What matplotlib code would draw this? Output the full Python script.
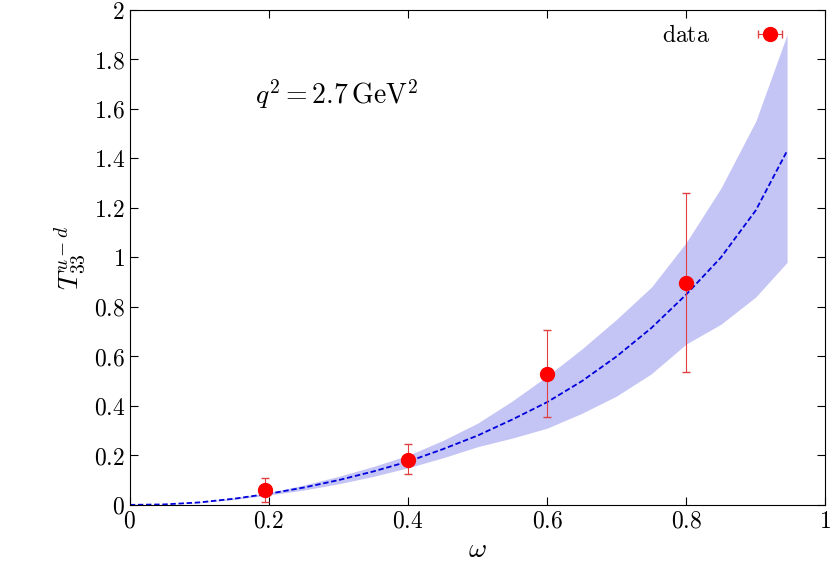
import matplotlib
matplotlib.use("Agg")
import matplotlib.pyplot as plt
import numpy as np

plt.rcParams["mathtext.fontset"] = "cm"
plt.rcParams["font.family"] = "serif"
plt.rcParams["font.serif"] = ["DejaVu Serif"]

omega_data = [0.195, 0.4, 0.6, 0.8]
T_data = [0.06, 0.18, 0.53, 0.895]
err_lo = [0.05, 0.055, 0.175, 0.36]
err_hi = [0.05, 0.065, 0.175, 0.365]

omega_curve = [0, 0.05, 0.1, 0.15, 0.2, 0.25, 0.3, 0.35, 0.4, 0.45, 0.5, 0.55, 0.6, 0.65, 0.7, 0.75, 0.8, 0.85, 0.9, 0.945]
central = [0, 0.002, 0.01, 0.025, 0.045, 0.07, 0.1, 0.135, 0.175, 0.225, 0.28, 0.345, 0.415, 0.5, 0.6, 0.715, 0.85, 1.0, 1.19, 1.43]
upper = [0, 0.002, 0.011, 0.028, 0.05, 0.08, 0.115, 0.155, 0.2, 0.26, 0.33, 0.42, 0.52, 0.63, 0.75, 0.88, 1.06, 1.28, 1.55, 1.9]
lower = [0, 0.002, 0.009, 0.022, 0.04, 0.06, 0.085, 0.115, 0.15, 0.19, 0.235, 0.27, 0.31, 0.37, 0.44, 0.53, 0.65, 0.73, 0.84, 0.98]

xticks = [0, 0.2, 0.4, 0.6, 0.8, 1]
yticks = [0, 0.2, 0.4, 0.6, 0.8, 1, 1.2, 1.4, 1.6, 1.8, 2]

fig = plt.figure(figsize=(8.32, 5.79), dpi=100)
ax = fig.add_axes([0.156, 0.128, 0.836, 0.855])
ax.fill_between(omega_curve, lower, upper, color="#c4c4f5", lw=0)
ax.plot(omega_curve, central, "--", color="#0000dd", lw=1.3, dashes=(3, 1.5))
ax.errorbar(omega_data, T_data, yerr=[err_lo, err_hi], fmt="o", color="red",
            ms=10, ecolor="#e04040", elinewidth=0.8, capsize=3)
ax.errorbar([np.nan], [np.nan], xerr=[[0.1]], fmt="o", color="red",
            ms=10, ecolor="#e04040", elinewidth=0.8, capsize=3,
            label=r"$\mathrm{data}$")
ax.set_xlim(0, 1)
ax.set_ylim(0, 2)
ax.set_xticks(xticks)
ax.set_yticks(yticks)
ax.set_xticklabels([f"${t:g}$" for t in xticks], fontsize=17)
ax.set_yticklabels([f"${t:g}$" for t in yticks], fontsize=17)
ax.tick_params(direction="in", top=True, right=True, length=6)
ax.set_xlabel(r"$\omega$", fontsize=20, labelpad=2)
ax.set_ylabel(r"$T_{33}^{u-d}$", fontsize=20, labelpad=4)
ax.text(0.18, 1.62, r"$q^2 = 2.7\,\mathrm{GeV}^2$", fontsize=20)
leg = ax.legend(loc="upper right", frameon=False, markerfirst=False,
                fontsize=17, handlelength=3.5, borderaxespad=0.2)
fig.savefig("out.png", dpi=100)
